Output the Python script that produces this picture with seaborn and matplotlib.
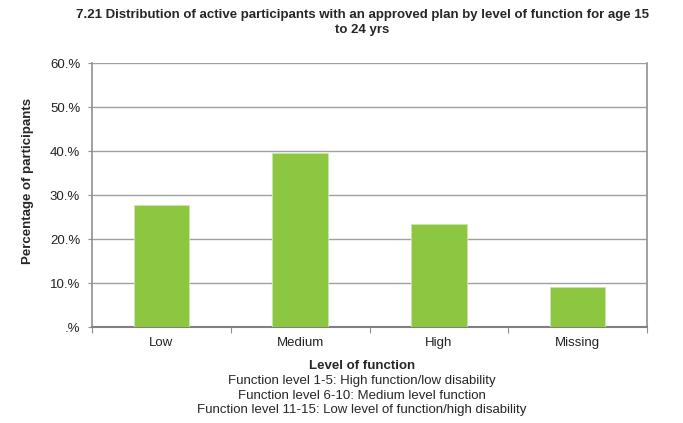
import matplotlib
matplotlib.use("Agg")
import matplotlib.pyplot as plt
import seaborn as sns
import pandas as pd
from matplotlib.ticker import FixedLocator

categories = ["Low", "Medium", "High", "Missing"]
values = [27.7, 39.5, 23.3, 9.1]
ytick_vals = [0, 10, 20, 30, 40, 50, 60]
ytick_labels = [".%", "10.%", "20.%", "30.%", "40.%", "50.%", "60.%"]
title = "7.21 Distribution of active participants with an approved plan by level of function for age 15\nto 24 yrs"
xlabel = "Level of function"
ylabel = "Percentage of participants"
notes = ["Function level 1-5: High function/low disability",
         "Function level 6-10: Medium level function",
         "Function level 11-15: Low level of function/high disability"]

sns.set_theme(style="white")
plt.rcParams['font.family'] = ['Liberation Sans', 'DejaVu Sans']

df = pd.DataFrame({"cat": categories, "val": values})

fs = 9.5
cx = 362 / 683
fig = plt.figure(figsize=(6.83, 4.23), dpi=100)
ax = fig.add_axes([92/683, 96/423, (647-92)/683, (327-63)/423])
sns.barplot(data=df, x="cat", y="val", color="#8DC641", width=0.4,
            saturation=1, ax=ax, zorder=3, edgecolor="#C9E5A8", linewidth=0.6)

ax.set_ylim(0, 60)
ax.set_xlim(-0.5, 3.5)
ax.set_yticks(ytick_vals)
ax.set_yticklabels(ytick_labels, fontsize=fs, color="#222222")
ax.tick_params(axis="x", labelsize=fs, labelcolor="#222222", length=0, pad=7)
ax.tick_params(axis="y", length=3, width=0.8, color="#909090", direction="out", pad=5.5, left=True)
ax.xaxis.set_minor_locator(FixedLocator([-0.5, 0.5, 1.5, 2.5, 3.5]))
ax.tick_params(axis="x", which="minor", length=4, width=0.8, color="#909090", bottom=True)
ax.yaxis.grid(True, color="#A0A0A0", linewidth=1.0, zorder=0)
ax.set_axisbelow(True)
for side in ["left", "right", "top", "bottom"]:
    ax.spines[side].set_visible(True)
    ax.spines[side].set_color("#909090")
    ax.spines[side].set_linewidth(1.2)
ax.spines["bottom"].set_color("#808080")
ax.spines["bottom"].set_linewidth(1.5)
ax.spines["top"].set_visible(False)

ax.set_xlabel("")
ax.set_ylabel(ylabel, fontsize=fs, fontweight="bold")
ax.yaxis.set_label_coords(-(92 - 34) / 555, (327 - 181.5) / 264)

fig.text(cx, 1 - 22.5/423, title, ha="center", va="center", fontsize=fs,
         fontweight="bold", linespacing=1.25)
fig.text(cx, 1 - 366/423, xlabel, ha="center", va="center", fontsize=fs, fontweight="bold")
for i, n in enumerate(notes):
    fig.text(cx, 1 - (381 + 14.5 * i)/423, n, ha="center", va="center", fontsize=fs)

fig.savefig("out.png", dpi=100)
